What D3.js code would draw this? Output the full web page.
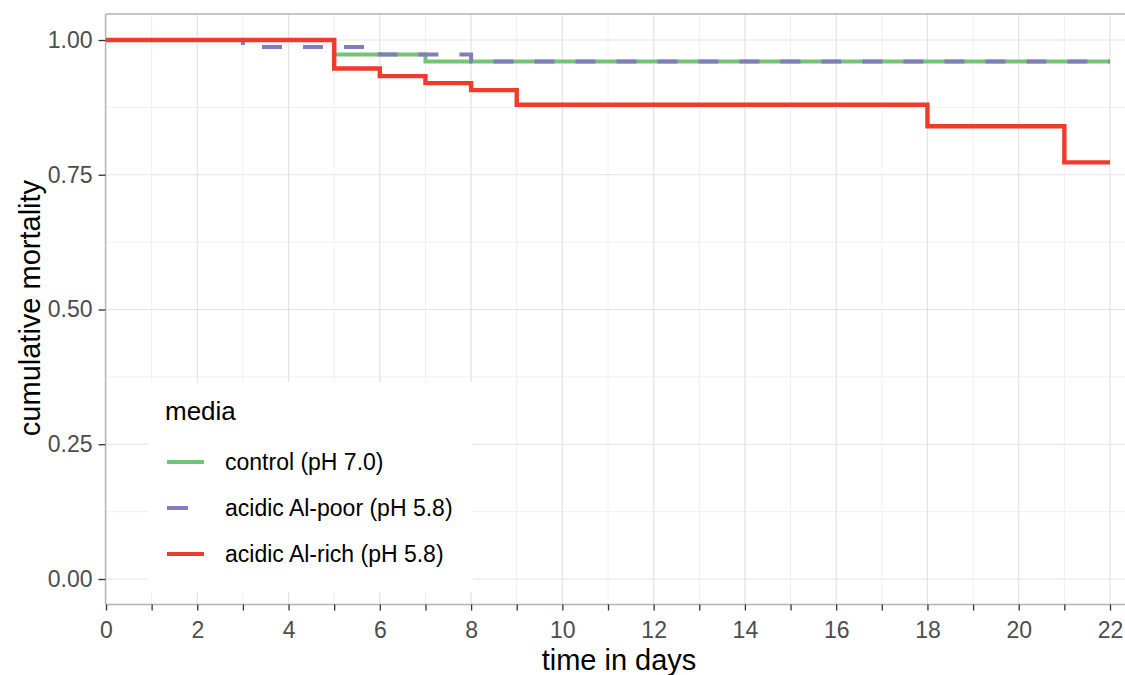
<!DOCTYPE html>
<html>
<head>
<meta charset="utf-8">
<script src="https://cdn.jsdelivr.net/npm/d3@7"></script>
<style>
  body { margin: 0; background: #fff; }
  svg { font-family: "Liberation Sans", Arial, sans-serif; }
</style>
</head>
<body>
<div id="Canvas"></div>
<script>
// data (step curves)
let controlDays = [0, 5, 7, 22]
let controlVals = [1, 0.973, 0.96, 0.96]
let poorDays = [0, 3, 6, 8, 22]
let poorVals = [1, 0.987, 0.973, 0.96, 0.96]
let richDays = [0, 5, 6, 7, 8, 9, 18, 21, 22]
let richVals = [1, 0.947, 0.933, 0.92, 0.907, 0.88, 0.84, 0.773, 0.773]
let seriesNames = ["control (pH 7.0)", "acidic Al-poor (pH 5.8)", "acidic Al-rich (pH 5.8)"]
let seriesColors = ["#74c476", "#807dba", "#ef3b2c"]
let xTicks = [0, 2, 4, 6, 8, 10, 12, 14, 16, 18, 20, 22]
let yTicks = [0, 0.25, 0.5, 0.75, 1]

let W = 1125, H = 675
let svg = d3.select("#Canvas")
    .append("svg")
    .attr("width", W)
    .attr("height", H)

//scales
let xScale = d3.scaleLinear()
    .domain([0, 22])
    .range([106, 1110])
let yScale = d3.scaleLinear()
    .domain([0, 1])
    .range([579, 40])
let panelLeft = 105.5, panelTop = 14, panelBottom = 604.5, panelRight = 1140

//grid
let minorX = d3.range(1, 23, 2)
let minorY = [0.125, 0.375, 0.625, 0.875]
let grid = svg.append("g")
grid.selectAll(".mx").data(minorX).enter().append("line")
    .attr("x1", d => xScale(d)).attr("x2", d => xScale(d))
    .attr("y1", panelTop).attr("y2", panelBottom)
    .style("stroke", "#f0f0f0").style("stroke-width", 1)
grid.selectAll(".my").data(minorY).enter().append("line")
    .attr("x1", panelLeft).attr("x2", panelRight)
    .attr("y1", d => yScale(d)).attr("y2", d => yScale(d))
    .style("stroke", "#f0f0f0").style("stroke-width", 1)
grid.selectAll(".Mx").data(xTicks).enter().append("line")
    .attr("x1", d => xScale(d)).attr("x2", d => xScale(d))
    .attr("y1", panelTop).attr("y2", panelBottom)
    .style("stroke", "#e3e3e3").style("stroke-width", 1.2)
grid.selectAll(".My").data(yTicks).enter().append("line")
    .attr("x1", panelLeft).attr("x2", panelRight)
    .attr("y1", d => yScale(d)).attr("y2", d => yScale(d))
    .style("stroke", "#e3e3e3").style("stroke-width", 1.2)

//panel border (top + left) and bottom axis line
svg.append("line").attr("x1", panelLeft).attr("x2", panelRight)
    .attr("y1", panelTop).attr("y2", panelTop)
    .style("stroke", "#b3b3b3").style("stroke-width", 1.3)
svg.append("line").attr("x1", panelLeft).attr("x2", panelLeft)
    .attr("y1", panelTop).attr("y2", panelBottom)
    .style("stroke", "#b3b3b3").style("stroke-width", 1.3)
svg.append("line").attr("x1", panelLeft).attr("x2", panelRight)
    .attr("y1", panelBottom).attr("y2", panelBottom)
    .style("stroke", "#b3b3b3").style("stroke-width", 1.3)

//step lines
let series = [
    { name: seriesNames[0], color: seriesColors[0], dash: null, pts: controlDays.map((d, i) => [d, controlVals[i]]) },
    { name: seriesNames[1], color: seriesColors[1], dash: "20,21", pts: poorDays.map((d, i) => [d, poorVals[i]]) },
    { name: seriesNames[2], color: seriesColors[2], dash: null, pts: richDays.map((d, i) => [d, richVals[i]]) }
]
let stepLine = d3.line()
    .x(d => xScale(d[0]))
    .y(d => yScale(d[1]))
    .curve(d3.curveStepAfter)
svg.append("g").selectAll("path")
    .data(series)
    .enter()
    .append("path")
    .attr("d", d => stepLine(d.pts))
    .style("fill", "none")
    .style("stroke", d => d.color)
    .style("stroke-width", (d, i) => i == 2 ? 4.4 : 4)
    .style("stroke-dasharray", d => d.dash)
    .style("stroke-dashoffset", 1)

//axes
let xAxis = svg.append("g")
    .attr("transform", `translate(0,${panelBottom})`)
    .call(d3.axisBottom(xScale).tickValues(d3.range(0, 23, 1)).tickSize(6)
        .tickFormat(d => d % 2 == 0 ? d : ""))
let yAxis = svg.append("g")
    .attr("transform", `translate(${panelLeft},0)`)
    .call(d3.axisLeft(yScale).tickValues(yTicks).tickSize(7)
        .tickFormat(d3.format(".2f")))
;[xAxis, yAxis].forEach(a => {
    a.select(".domain").remove()
    a.selectAll(".tick line").style("stroke", "#333").style("stroke-width", 1.3)
    a.selectAll("text").style("fill", "#4d4d4d").style("font-size", "23px")
        .style("font-family", "Liberation Sans, Arial, sans-serif")
})
xAxis.selectAll("text").attr("dy", "0.71em").attr("y", 17)
yAxis.selectAll("text").attr("x", -13)

//axis titles
svg.append("text")
    .attr("x", 619).attr("y", 670)
    .attr("text-anchor", "middle")
    .style("font-size", "29px")
    .text("time in days")
svg.append("text")
    .attr("transform", "translate(40,308) rotate(-90)")
    .attr("text-anchor", "middle")
    .style("font-size", "29px")
    .text("cumulative mortality")

//legend
let legend = svg.append("g")
legend.append("rect")
    .attr("x", 148).attr("y", 382)
    .attr("width", 325).attr("height", 210)
    .style("fill", "#fff")
legend.append("text")
    .attr("x", 165).attr("y", 420)
    .style("font-size", "26px")
    .text("media")
let item = legend.selectAll(".item")
    .data(series)
    .enter()
    .append("g")
    .attr("transform", (d, i) => `translate(0,${462 + i * 46})`)
item.append("line")
    .attr("x1", 167).attr("x2", (d, i) => i == 1 ? 188 : 204)
    .attr("y1", 0).attr("y2", 0)
    .style("stroke", d => d.color)
    .style("stroke-width", 4)
item.append("text")
    .attr("x", 225).attr("y", 0).attr("dy", "0.35em")
    .style("font-size", "23px")
    .text(d => d.name)
</script>
</body>
</html>
